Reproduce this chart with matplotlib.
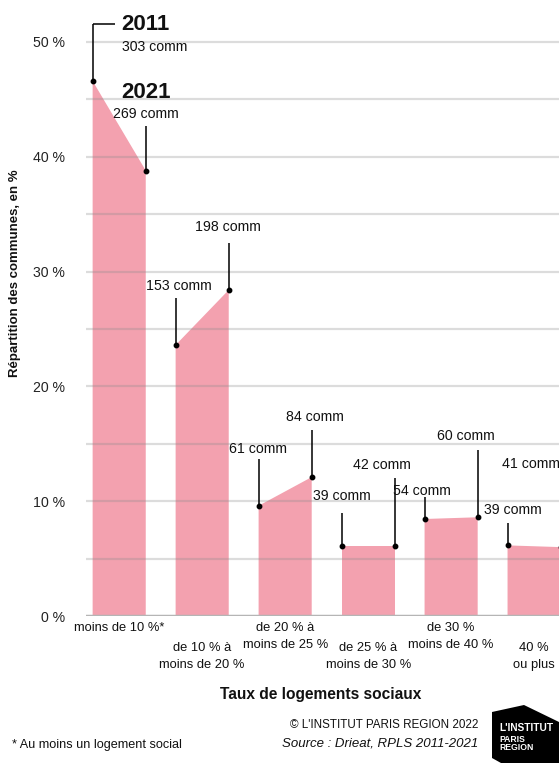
import matplotlib
matplotlib.use("Agg")
import matplotlib.pyplot as plt
from matplotlib import font_manager
from matplotlib.patches import Polygon

# ---------------- data ----------------
categories = ["moins de 10 %*", "de 10 % à\nmoins de 20 %", "de 20 % à\nmoins de 25 %",
              "de 25 % à\nmoins de 30 %", "de 30 %\nmoins de 40 %", "40 %\nou plus"]
share_2011 = [46.6, 23.6, 9.6, 6.1, 8.45, 6.15]   # % des communes
share_2021 = [38.8, 28.4, 12.1, 6.1, 8.6, 6.0]
comm_2011 = [303, 153, 61, 39, 54, 39]
comm_2021 = [269, 198, 84, 42, 60, 41]
years = ["2011", "2021"]
yticks = [0, 10, 20, 30, 40, 50]

# ---------------- layout (label placement) ----------------
lab2011_y = [49.6, 28.75, 14.55, 10.45, 10.9, 9.19]
lab2011_top = [51.55, 27.7, 13.68, 9.0, 10.4, 8.1]
lab2011_dx = [0, 3, -1, 0, -2.5, 5]          # pixels
lab2021_y = [43.73, 33.84, 17.29, 13.15, 15.68, 13.24]
lab2021_top = [42.68, 32.5, 16.2, 12.05, 14.46, 12.13]
lab2021_dx = [0, -1, 3, -13, -12, -30]

names = {f.name for f in font_manager.fontManager.ttflist}
FONT = "Liberation Sans Narrow" if "Liberation Sans Narrow" in names else "Liberation Sans"
plt.rcParams["font.family"] = [FONT, "DejaVu Sans"]

PINK = "#F3A1AF"
W, H = 559, 763
fig = plt.figure(figsize=(W / 100, H / 100), dpi=100)
ax_left, ax_bottom_px, ax_top_px = 86, 616, 19
ax = fig.add_axes([ax_left / W, (H - ax_bottom_px) / H, (W - ax_left) / W,
                   (ax_bottom_px - ax_top_px) / H])
ax.set_xlim(-0.40, 5.30)
ax.set_ylim(0, 52)
PXX = 83.0  # pixels per category unit
HW = 0.32   # half bar width

for i in range(len(categories)):
    poly = Polygon([(i - HW, 0), (i - HW, share_2011[i]), (i + HW, share_2021[i]), (i + HW, 0)],
                   closed=True, facecolor=PINK, edgecolor="none", zorder=2)
    ax.add_patch(poly)

for y in range(5, 51, 5):
    ax.axhline(y, color="#8c8c8c", alpha=0.3, lw=1.6, zorder=3)
ax.axhline(0, color="#b5b5b5", lw=2.5, zorder=3)

for s in ax.spines.values():
    s.set_visible(False)
ax.set_xticks([])
ax.set_yticks(yticks)
ax.set_yticklabels([f"{v} %" for v in yticks], fontsize=10.2, color="#222222")
ax.tick_params(axis="y", length=0, pad=15)

LBL = dict(fontsize=10.2, color="#111111", zorder=5)
LINE = dict(color="black", lw=1.1, zorder=4, solid_capstyle="butt")
DOT = dict(marker="o", ms=3.2, color="black", zorder=5, linestyle="none")

for i in range(len(categories)):
    xl, xr = i - HW, i + HW
    ax.plot([xl], [share_2011[i]], **DOT)
    ax.plot([xl, xl], [share_2011[i], lab2011_top[i]], clip_on=False, **LINE)
    ax.plot([xr], [share_2021[i]], **DOT)
    ax.plot([xr, xr], [share_2021[i], lab2021_top[i]], clip_on=False, **LINE)
    if i == 0:
        xh = xl + 22 / PXX
        ax.plot([xl, xh], [lab2011_top[i], lab2011_top[i]], clip_on=False, **LINE)
        xt = xl + 29 / PXX
        ax.text(xt, lab2011_top[i], years[0], ha="left", va="center", fontsize=16,
                fontweight="bold", color="#111111", clip_on=False)
        ax.text(xt, lab2011_y[i], f"{comm_2011[i]} comm", ha="left", va="center", **LBL)
        ax.text(xt, 45.6, years[1], ha="left", va="center", fontsize=16,
                fontweight="bold", color="#111111")
        ax.text(xr, lab2021_y[i], f"{comm_2021[i]} comm", ha="center", va="center", **LBL)
    else:
        ax.text(xl + lab2011_dx[i] / PXX, lab2011_y[i], f"{comm_2011[i]} comm",
                ha="center", va="center", **LBL)
        ax.text(xr + lab2021_dx[i] / PXX, lab2021_y[i], f"{comm_2021[i]} comm",
                ha="center", va="center", **LBL)

# category labels (staggered)
axh = ax_bottom_px - ax_top_px
def yfrac(ypx):
    return -(ypx - ax_bottom_px) / axh

for i, lab in enumerate(categories):
    start = 628 if i % 2 == 0 else 648
    for k, line in enumerate(lab.split("\n")):
        ax.text(i, yfrac(start + 17 * k), line, transform=ax.get_xaxis_transform(),
                ha="center", va="center", fontsize=9.3, color="#111111")

def fx(x):
    return x / W
def fy(y):
    return 1 - y / H

fig.text(fx(321), fy(695), "Taux de logements sociaux", ha="center", va="center",
         fontsize=11.2, fontweight="bold", color="#111111")
fig.text(fx(15), fy(273), "Répartition des communes, en %", rotation=90, ha="center",
         va="center", fontsize=9.5, fontweight="bold", color="#111111")
fig.text(fx(478), fy(725), "© L'INSTITUT PARIS REGION 2022", ha="right", va="center",
         fontsize=8.4, color="#111111")
fig.text(fx(478), fy(744), "Source : Drieat, RPLS 2011-2021", ha="right", va="center",
         fontsize=9.5, style="italic", color="#111111")
fig.text(fx(12), fy(745), "* Au moins un logement social", ha="left", va="center",
         fontsize=9.1, color="#111111")

logo = Polygon([(fx(492), fy(712)), (fx(524), fy(705)), (fx(559), fy(722)), (fx(559), fy(763)),
                (fx(501), fy(763)), (fx(492), fy(758))], closed=True, facecolor="black",
               edgecolor="none", transform=fig.transFigure)
fig.patches.append(logo)
fig.text(fx(499), fy(728), "L'INSTITUT", ha="left", va="center", fontsize=7.3,
         fontweight="bold", color="white")
fig.text(fx(499), fy(739), "PARIS", ha="left", va="center", fontsize=6.2,
         fontweight="bold", color="white")
fig.text(fx(499), fy(748), "REGION", ha="left", va="center", fontsize=6.2,
         fontweight="bold", color="white")

fig.savefig("out.png", dpi=100, facecolor="white")
